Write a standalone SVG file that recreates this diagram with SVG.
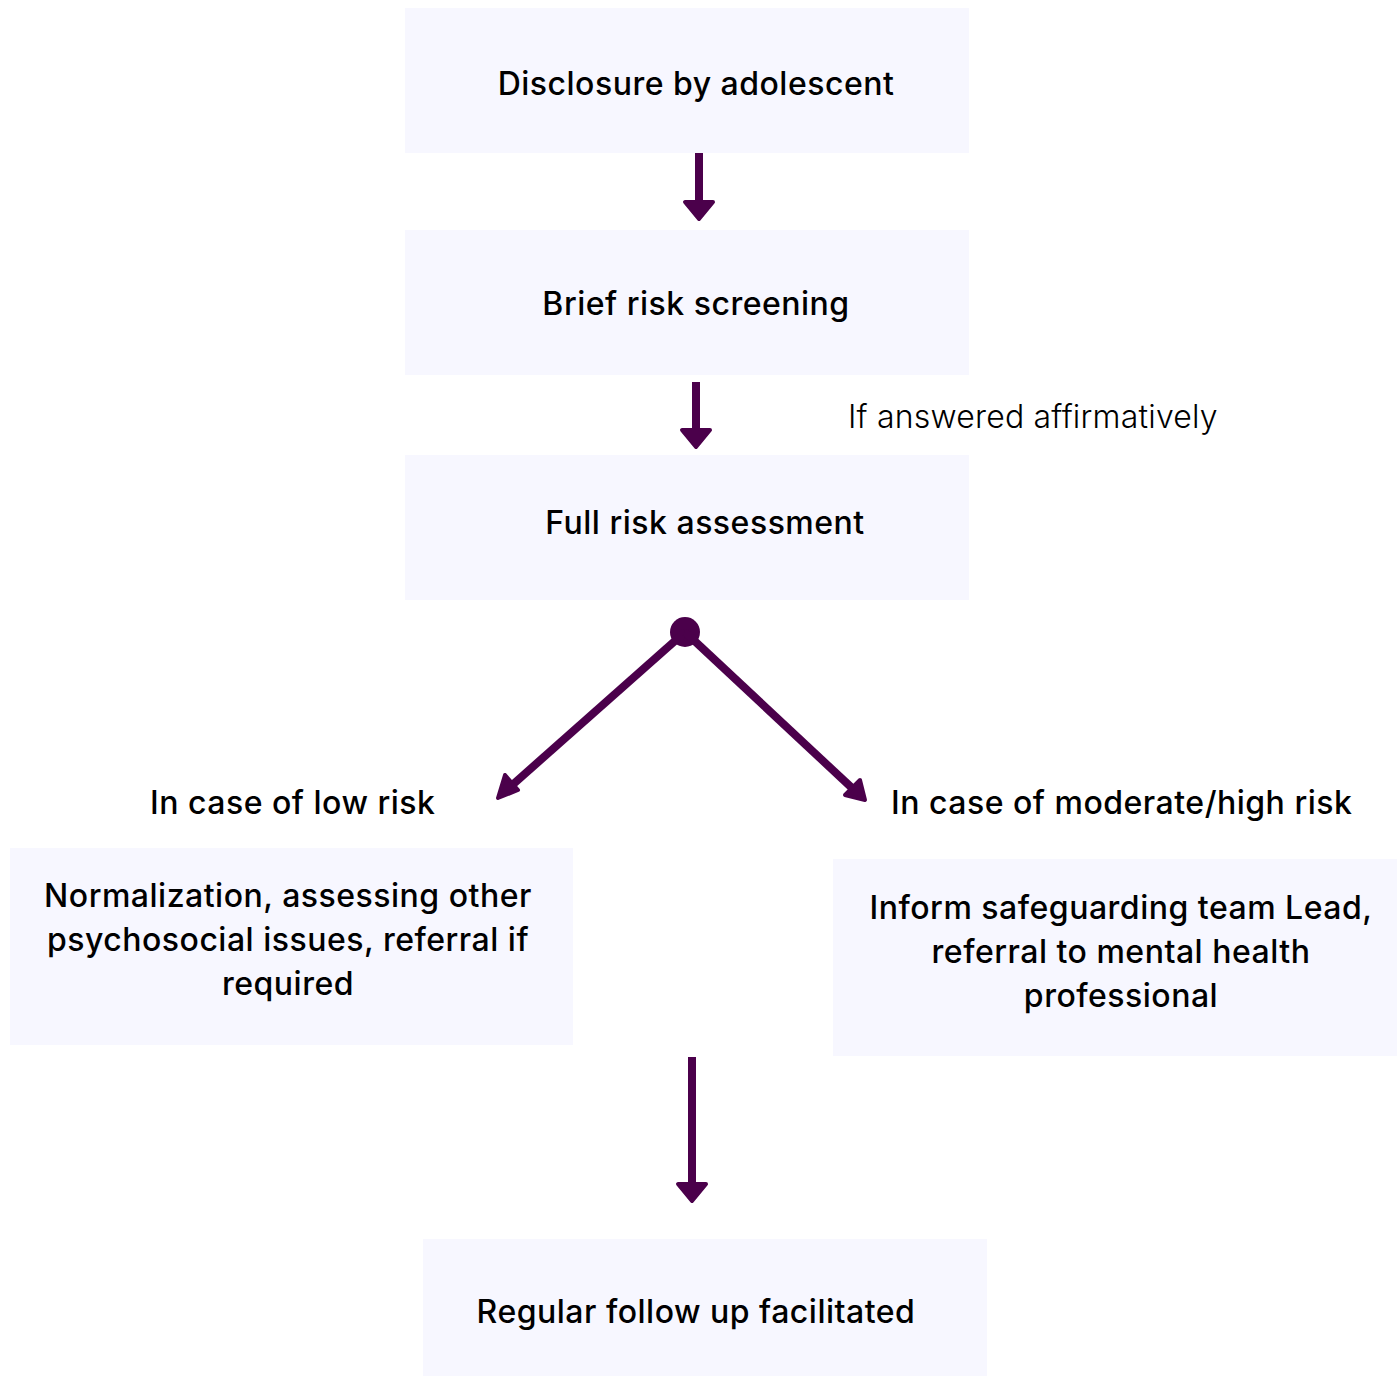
<svg xmlns="http://www.w3.org/2000/svg" width="1400" height="1377" viewBox="0 0 1400 1377">
<defs>
<style>
.box{fill:#F7F7FF;}
.t{font-family:Inter,"Noto Sans",sans-serif;font-size:32px;font-weight:500;letter-spacing:0.5px;fill:#000;text-anchor:middle;}
.lbl{font-family:Inter,"Noto Sans",sans-serif;font-size:32px;font-weight:500;letter-spacing:0.5px;fill:#000;}
.lt{font-family:Inter,"Noto Sans",sans-serif;font-size:32px;font-weight:300;letter-spacing:0.2px;fill:#000;}
.c{stroke:#4B004B;stroke-width:8;fill:none;}
.h{fill:#4B004B;stroke:#4B004B;stroke-width:4;stroke-linejoin:round;}
</style>
</defs>
<rect width="1400" height="1377" fill="#fff"/>
<g id="n1"><rect class="box" x="405" y="8" width="564" height="145"/><text class="t" x="696" y="95">Disclosure by adolescent</text></g>
<g id="n2"><rect class="box" x="405" y="230" width="564" height="145"/><text class="t" x="696" y="315">Brief risk screening</text></g>
<g id="n3"><rect class="box" x="405" y="455" width="564" height="145"/><text class="t" x="705" y="534">Full risk assessment</text></g>
<g id="n4"><rect class="box" x="10" y="848" width="563" height="197"/><text class="t" x="288" y="907">Normalization, assessing other</text><text class="t" x="288" y="951">psychosocial issues, referral if</text><text class="t" x="288" y="995">required</text></g>
<g id="n5"><rect class="box" x="833" y="859" width="564" height="197"/><text class="t" x="1121" y="919">Inform safeguarding team Lead,</text><text class="t" x="1121" y="963">referral to mental health</text><text class="t" x="1121" y="1007">professional</text></g>
<g id="n6"><rect class="box" x="423" y="1239" width="564" height="137"/><text class="t" x="696" y="1323">Regular follow up facilitated</text></g>
<g id="labels">
<text class="lt" x="848" y="428">If answered affirmatively</text>
<text class="lbl" x="150" y="814">In case of low risk</text>
<text class="lbl" x="891" y="814">In case of moderate/high risk</text>
</g>
<g id="connectors">
<line class="c" x1="699" y1="153" x2="699" y2="204"/>
<polygon class="h" points="685,202 713,202 699,219"/>
<line class="c" x1="696" y1="382" x2="696" y2="432"/>
<polygon class="h" points="682,430 710,430 696,447"/>
<circle cx="685" cy="632" r="15" fill="#4B004B"/>
<line class="c" x1="685" y1="632" x2="510" y2="787"/>
<polygon class="h" points="498,798 505,775 518,790"/>
<line class="c" x1="685" y1="632" x2="852" y2="788"/>
<polygon class="h" points="865,800 845,795 860,780"/>
<line class="c" x1="692" y1="1057" x2="692" y2="1186"/>
<polygon class="h" points="678,1184 706,1184 692,1201"/>
</g>
</svg>
